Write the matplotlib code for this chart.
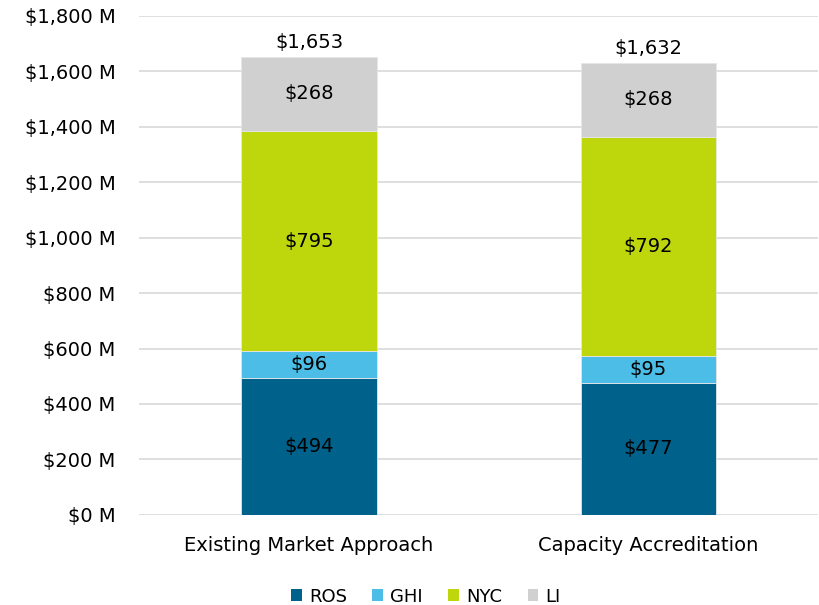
import matplotlib
matplotlib.use("Agg")
import matplotlib.pyplot as plt
import numpy as np
from matplotlib.patches import Patch

categories = ["Existing Market Approach", "Capacity Accreditation"]
series_names = ["ROS", "GHI", "NYC", "LI"]
ros = [494, 477]
ghi = [96, 95]
nyc = [795, 792]
li = [268, 268]
totals = [1653, 1632]
colors = ["#00618a", "#4bbde6", "#bdd70c", "#d0d0d0"]

plt.rcParams['font.family'] = ['DejaVu Sans']

fig = plt.figure(figsize=(8.19, 6.05), dpi=100)
ax = fig.add_axes([0.170, 0.149, 0.829, 0.8246])

x = np.arange(len(categories))
width = 0.4
bottom = np.zeros(len(categories))
for name, vals, c in zip(series_names, [ros, ghi, nyc, li], colors):
    vals = np.array(vals, dtype=float)
    ax.bar(x, vals, width, bottom=bottom, color=c, edgecolor="#e6e6e6", linewidth=0.6, zorder=3)
    for xi, v, b in zip(x, vals, bottom):
        ax.text(xi, b + v / 2, f"${int(v):,}", ha="center", va="center", fontsize=14, color="black", zorder=4)
    bottom += vals

for xi, t in zip(x, totals):
    ax.text(xi, t + 18, f"${t:,}", ha="center", va="bottom", fontsize=14, color="black")

ax.set_xlim(-0.5, 1.5)
ax.set_ylim(0, 1800)
yt = np.arange(0, 1801, 200)
ax.set_yticks(yt)
ax.set_yticklabels([f"${v:,} M" for v in yt], fontsize=14)
ax.set_xticks(x)
ax.set_xticklabels(categories, fontsize=14)
ax.tick_params(axis="both", length=0)
ax.tick_params(axis="y", pad=17)
ax.tick_params(axis="x", pad=15)
ax.yaxis.grid(True, color="#d9d9d9", linewidth=1.2, zorder=0)
for s in ax.spines.values():
    s.set_visible(False)

handles = [Patch(facecolor=c, edgecolor="none") for c in colors]
fig.legend(handles, series_names, loc="center", bbox_to_anchor=(0.52, 0.014), ncol=4, frameon=False,
           fontsize=13, handlelength=0.6, handleheight=0.6, handletextpad=0.4, columnspacing=1.4)

fig.savefig("out.png", dpi=100)
